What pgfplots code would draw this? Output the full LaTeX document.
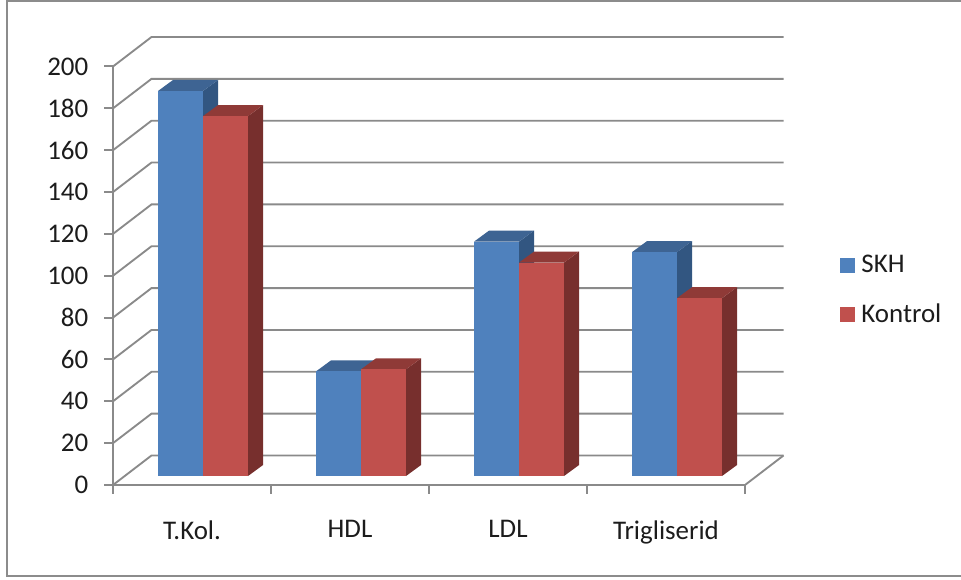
\documentclass[border=0pt]{standalone}
\usepackage{fontspec}
\setmainfont{Carlito}
\usepackage{pgfplots}
\pgfplotsset{compat=1.18}

\definecolor{linegray}{HTML}{8A8A8A}
\definecolor{framegray}{HTML}{8C8C8C}
\definecolor{labeltext}{HTML}{1C1C1C}
\definecolor{skhfront}{HTML}{4F81BD}
\definecolor{skhtop}{HTML}{3E6493}
\definecolor{skhside}{HTML}{325681}
\definecolor{konfront}{HTML}{C0504D}
\definecolor{kontop}{HTML}{8F3A37}
\definecolor{konside}{HTML}{772F2D}

% Offset of the back wall from the front plane, in axis units
\def\walldx{0.2437}
\def\walldy{14.1}
% Depth of a bar and its lift off the front edge of the floor
\def\bardx{0.0949}
\def\bardy{5.26}
\def\barbase{4.3}
\def\barwidth{0.2848}

% One gridline: the diagonal on the left wall and the run along the back wall
\newcommand{\wallline}[1]{%
  \pgfmathsetmacro{\yb}{#1+\walldy}%
  \addplot[linegray, line width=1.4pt, forget plot] coordinates
    {(0,#1) (\walldx,\yb) (4+\walldx,\yb)};
}

% One 3D bar: left x, value, colour prefix
\newcommand{\solidbar}[3]{%
  \pgfmathsetmacro{\xr}{#1+\barwidth}%
  \pgfmathsetmacro{\yt}{\barbase+#2}%
  \pgfmathsetmacro{\xlb}{#1+\bardx}%
  \pgfmathsetmacro{\xrb}{\xr+\bardx}%
  \pgfmathsetmacro{\ytb}{\yt+\bardy}%
  \pgfmathsetmacro{\ybb}{\barbase+\bardy}%
  \addplot[fill=#3side, draw=none, forget plot] coordinates
    {(\xr,\barbase) (\xrb,\ybb) (\xrb,\ytb) (\xr,\yt)} --cycle;
  \addplot[fill=#3top, draw=none, forget plot] coordinates
    {(#1,\yt) (\xlb,\ytb) (\xrb,\ytb) (\xr,\yt)} --cycle;
  \addplot[fill=#3front, draw=none, forget plot] coordinates
    {(#1,\barbase) (\xr,\barbase) (\xr,\yt) (#1,\yt)} --cycle;
}

\begin{document}
\begin{tikzpicture}
\begin{axis}[
  at={(0,0)}, anchor=south west,
  scale only axis,
  width=474pt, height=313.875pt,
  xmin=0, xmax=4, ymin=0, ymax=200,
  clip=false,
  axis x line=bottom, axis y line=left,
  axis line style={linegray, line width=1.5pt, -},
  tick style={linegray, line width=1.5pt},
  tick align=outside,
  major tick length=6.5pt,
  xtick={0,1,2,3,4},
  x tick label as interval,
  xticklabels={T.Kol.,HDL,LDL,Trigliserid},
  ytick={0,20,...,200},
  /pgf/number format/assume math mode=true,
  tick label style={font=\fontsize{20.2}{24}\selectfont, text=labeltext},
  xticklabel style={yshift=-16.5pt},
  yticklabel style={xshift=-8.5pt},
  legend style={
    at={(axis cs:4.6,111)}, anchor=north west,
    draw=none, fill=none, inner sep=0pt, outer sep=0pt,
    row sep=17.75pt,
    font=\fontsize{20.2}{24}\selectfont,
    text=labeltext,
    cells={anchor=west},
  },
  legend cell align=left,
  legend image code/.code={%
    \fill[#1, draw=none] (0pt,-5.6pt) rectangle (11.2pt,5.6pt);
    \path[draw=none, fill=none] (0pt,0pt) -- (14.2pt,0pt);},
]
  % Outer frame, open on the right
  \addplot[framegray, line width=1.5pt, forget plot] coordinates
    {(5.37,231.3) (-0.671,231.3) (-0.671,-43.5) (5.37,-43.5)};

  % Gridlines on the walls and the right edge of the floor
  \wallline{0}\wallline{20}\wallline{40}\wallline{60}\wallline{80}
  \wallline{100}\wallline{120}\wallline{140}\wallline{160}\wallline{180}\wallline{200}
  \addplot[linegray, line width=1.4pt, forget plot] coordinates
    {(4,0) (4+\walldx,\walldy)};

  % T.Kol.
  \solidbar{0.285}{184}{skh}
  \solidbar{0.570}{172}{kon}
  % HDL
  \solidbar{1.285}{50}{skh}
  \solidbar{1.570}{51}{kon}
  % LDL
  \solidbar{2.285}{112}{skh}
  \solidbar{2.570}{102}{kon}
  % Trigliserid
  \solidbar{3.285}{107}{skh}
  \solidbar{3.570}{85}{kon}

  \addlegendimage{skhfront}
  \addlegendimage{konfront}
  \legend{SKH,Kontrol}
\end{axis}
\pgfresetboundingbox
\path (-84.75pt,-70.5pt) rectangle (636pt,363.75pt);
\end{tikzpicture}
\end{document}
